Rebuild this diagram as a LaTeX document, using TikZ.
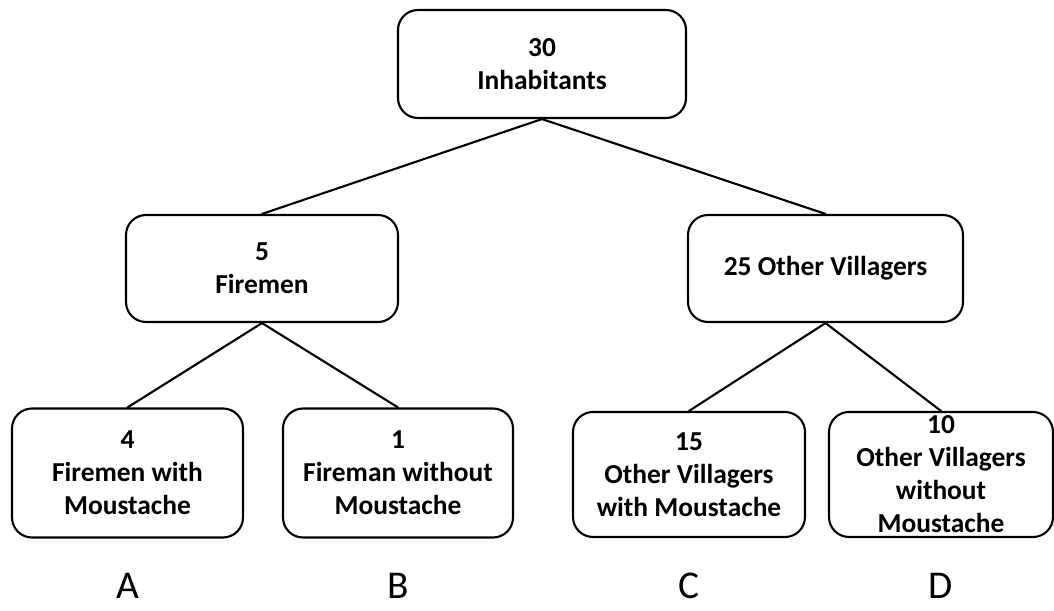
\documentclass[tikz,border=0pt]{standalone}
\usepackage{fontspec}
\setmainfont{Carlito}
\begin{document}
\begin{tikzpicture}[x=0.025cm, y=-0.025cm, line join=round, line cap=round,
    box/.style={draw, line width=1.5pt, rounded corners=0.5cm, align=center,
        font=\fontsize{19.5}{23.5}\selectfont\bfseries, inner sep=2pt},
    letter/.style={font=\fontsize{28}{32}\selectfont, inner sep=0pt, anchor=base}]
	\def \u{0.025cm}
	\useasboundingbox (0,0) rectangle (1054,611);
	% top level
	\node[box, minimum width=288*\u, minimum height=108*\u] (all) at (542,64) {30\\Inhabitants};
	% second level
	\node[box, minimum width=272*\u, minimum height=107*\u] (fire) at (262,268.5) {5\\Firemen};
	\node[box, minimum width=275*\u, minimum height=107*\u] (vill) at (825.5,268.5) {25 Other Villagers};
	% third level
	\node[box, minimum width=231*\u, minimum height=129*\u] (fm) at (127.5,473) {4\\Firemen with\\Moustache};
	\node[box, minimum width=230*\u, minimum height=129*\u] (fn) at (398,473) {1\\Fireman without\\Moustache};
	\node[box, minimum width=232*\u, minimum height=125*\u] (vm) at (689,474.5) {15\\Other Villagers\\with Moustache};
	\node[box, minimum width=224*\u, minimum height=125*\u] (vn) at (941,474.5) {10\\Other Villagers\\without\\Moustache};
	% connectors
	\draw[line width=1.5pt] (all.south) -- (fire.north);
	\draw[line width=1.5pt] (all.south) -- (vill.north);
	\draw[line width=1.5pt] (fire.south) -- (fm.north);
	\draw[line width=1.5pt] (fire.south) -- (fn.north);
	\draw[line width=1.5pt] (vill.south) -- (vm.north);
	\draw[line width=1.5pt] (vill.south) -- (vn.north);
	% letters
	\node[letter] (la) at (127.5,598) {A};
	\node[letter] (lb) at (398,598) {B};
	\node[letter] (lc) at (689,598) {C};
	\node[letter] (ld) at (941,598) {D};
\end{tikzpicture}
\end{document}
